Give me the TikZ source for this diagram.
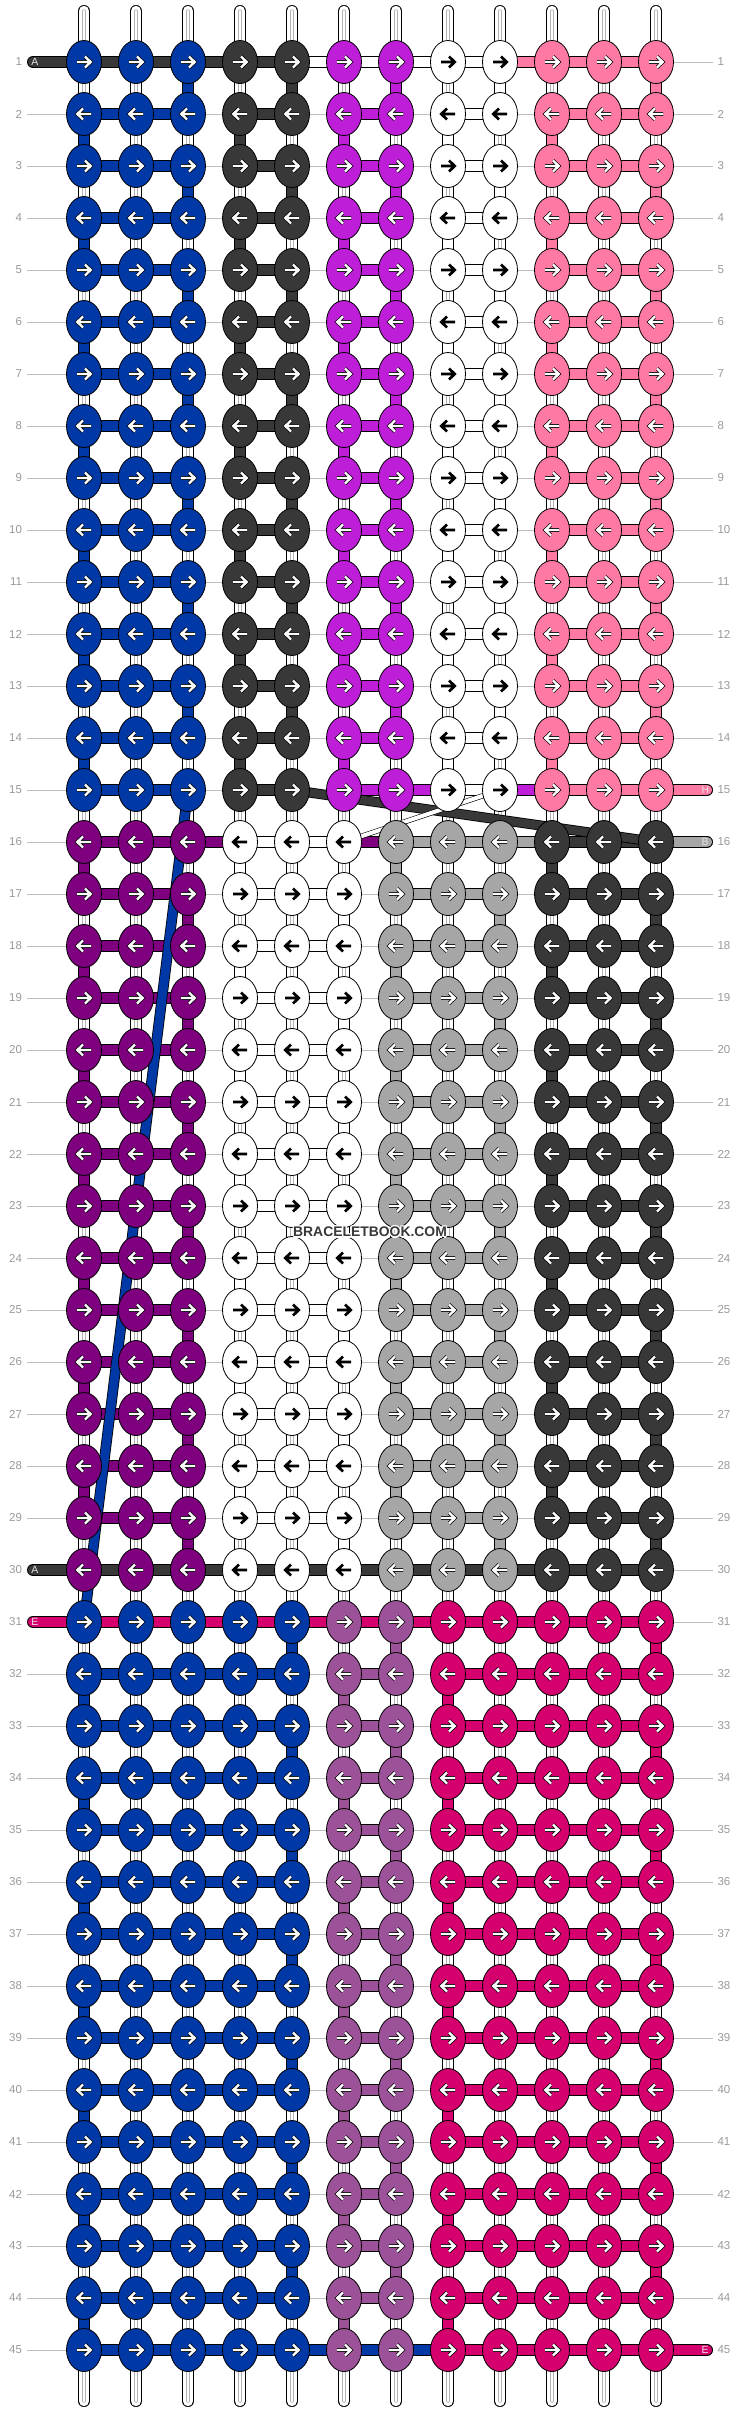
\documentclass[tikz,border=0pt]{standalone}
\usepackage{fontspec}
\setmainfont{Liberation Sans}
\usetikzlibrary{shapes.geometric}
\definecolor{kb}{HTML}{0039A6}
\definecolor{kd}{HTML}{383838}
\definecolor{km}{HTML}{BE1ED8}
\definecolor{kw}{HTML}{FFFFFF}
\definecolor{kp}{HTML}{FF7AA2}
\definecolor{kv}{HTML}{7F007F}
\definecolor{kg}{HTML}{A6A6A6}
\definecolor{kq}{HTML}{9C5298}
\definecolor{ke}{HTML}{D5006D}
\definecolor{numgray}{HTML}{999999}
\definecolor{linegray}{HTML}{BEBEBE}
\pgfdeclarelayer{guide}
\pgfdeclarelayer{strings}
\pgfdeclarelayer{threads}
\pgfdeclarelayer{cross}
\pgfsetlayers{guide,strings,threads,cross,main}
\begin{document}
\begin{tikzpicture}[x=1pt,y=-1pt,
  knot/.style={ellipse,draw=black,line width=0.8pt,minimum width=35pt,minimum height=43pt,inner sep=0pt},
  thread/.style={draw=black,line width=0.8pt,double=#1,double distance=10.4pt},
  base/.style={thread=kw,postaction={draw=black!30,line width=0.6pt,double=white,double distance=2.2pt}},
  warr/.style={draw=black,line width=0.7pt,double=white,double distance=2.3pt},
  barr/.style={draw=black,line width=2.7pt},
  rownum/.style={font=\fontsize{11.5}{12}\selectfont,text=numgray,inner sep=0pt,outer sep=4.5pt},
  tailname/.style={font=\fontsize{10.5}{11}\selectfont,text=white!90!black,inner sep=0pt},
  wmark/.style={font=\bfseries\fontsize{13.9}{14}\selectfont,inner sep=0pt}]
\useasboundingbox (0,0) rectangle (740,2412);
\foreach \ra/\rb/\cl in {1/15/{kb,kb,kb,kd,kd,km,km,kw,kw,kp,kp,kp},16/30/{kv,kv,kv,kw,kw,kw,kg,kg,kg,kd,kd,kd},31/45/{kb,kb,kb,kb,kb,kq,kq,ke,ke,ke,ke,ke}}
  \foreach \rw in {\ra,...,\rb} {
    \pgfmathsetmacro\dir{1-2*mod(\rw+1,2)}
    \foreach \kc [count=\cn] in \cl {
      \node[knot,fill=\kc] (k\rw-\cn) at ({32+52*\cn},{10+52*\rw}) {};
      \def\wn{kw}\edef\kn{\kc}
      \ifx\kn\wn\def\as{barr}\else\def\as{warr}\fi
      \draw[\as,shift={(k\rw-\cn.center)},xscale=\dir] (-7,0) -- (6,0) (1,-5.5) -- (6.7,0) -- (1,5.5);
    }
  }
\foreach \rw in {1,...,45} {
  \node[rownum,anchor=east] (nl\rw) at (26.5,{10+52*\rw}) {\rw};
  \node[rownum,anchor=west] (nr\rw) at (713,{10+52*\rw}) {\rw};
  \begin{pgfonlayer}{guide}
    \draw[linegray,line width=0.8pt] (nl\rw) -- (nr\rw);
  \end{pgfonlayer}
}
\node[tailname] (ta) at (35,62) {A};
\node[tailname] (th) at (705.5,790) {H};
\node[tailname] (tb) at (705,842) {B};
\node[tailname] (tz) at (35,1570) {A};
\node[tailname] (te) at (35,1622) {E};
\node[tailname] (tf) at (705,2350) {E};
\coordinate (ea) at (33,62);
\coordinate (eh) at (707,790);
\coordinate (eb) at (707,842);
\coordinate (ez) at (33,1570);
\coordinate (ee) at (33,1622);
\coordinate (ef) at (707,2350);
\begin{pgfonlayer}{strings}
\foreach \cn in {1,...,12} {
  \coordinate (t\cn) at ({32+52*\cn},11);
  \coordinate (b\cn) at ({32+52*\cn},2401);
  \draw[base,line cap=round] (t\cn) -- (k1-\cn.center);
  \draw[base,line cap=round] (k45-\cn.center) -- (b\cn);
  \foreach \rw [evaluate=\rw as \sn using int(\rw+1)] in {1,...,44}
    \draw[base] (k\rw-\cn.center) -- (k\sn-\cn.center);
}
\end{pgfonlayer}
\begin{pgfonlayer}{threads}
\foreach \rw [evaluate=\rw as \sn using int(\rw+1)] in {1,3,...,13}
  \foreach \cn/\kc in {3/kb,5/kd,7/km,9/kw,12/kp}
    \draw[thread=\kc] (k\rw-\cn.center) -- (k\sn-\cn.center);
\foreach \rw [evaluate=\rw as \sn using int(\rw+1)] in {2,4,...,14}
  \foreach \cn/\kc in {1/kb,4/kd,6/km,8/kw,10/kp}
    \draw[thread=\kc] (k\rw-\cn.center) -- (k\sn-\cn.center);
\foreach \rw [evaluate=\rw as \sn using int(\rw+1)] in {17,19,...,29}
  \foreach \cn/\kc in {3/kv,6/kw,9/kg,12/kd}
    \draw[thread=\kc] (k\rw-\cn.center) -- (k\sn-\cn.center);
\foreach \rw [evaluate=\rw as \sn using int(\rw+1)] in {16,18,...,28}
  \foreach \cn/\kc in {1/kv,4/kw,7/kg,10/kd}
    \draw[thread=\kc] (k\rw-\cn.center) -- (k\sn-\cn.center);
\foreach \rw [evaluate=\rw as \sn using int(\rw+1)] in {31,33,...,43}
  \foreach \cn/\kc in {5/kb,7/kq,12/ke}
    \draw[thread=\kc] (k\rw-\cn.center) -- (k\sn-\cn.center);
\foreach \rw [evaluate=\rw as \sn using int(\rw+1)] in {32,34,...,44}
  \foreach \cn/\kc in {1/kb,6/kq,8/ke}
    \draw[thread=\kc] (k\rw-\cn.center) -- (k\sn-\cn.center);
\draw[thread=km] (k15-7.center) -- (k15-10.center);
\draw[thread=kp,line cap=round] (k15-12.center) -- (eh);
\draw[thread=kg,line cap=round] (eb) -- (k16-7.center);
\draw[thread=kv] (k16-7.center) -- (k16-1.center);
\foreach \rw in {1,...,15}
  \foreach \cn/\dn/\kc in {1/2/kb,2/3/kb,4/5/kd,6/7/km,8/9/kw,10/11/kp,11/12/kp}
    \draw[thread=\kc] (k\rw-\cn.center) -- (k\rw-\dn.center);
\foreach \rw in {16,...,30}
  \foreach \cn/\dn/\kc in {1/2/kv,2/3/kv,4/5/kw,5/6/kw,7/8/kg,8/9/kg,10/11/kd,11/12/kd}
    \draw[thread=\kc] (k\rw-\cn.center) -- (k\rw-\dn.center);
\foreach \rw in {31,...,45}
  \foreach \cn/\dn/\kc in {1/2/kb,2/3/kb,3/4/kb,4/5/kb,6/7/kq,8/9/ke,9/10/ke,10/11/ke,11/12/ke}
    \draw[thread=\kc] (k\rw-\cn.center) -- (k\rw-\dn.center);
\draw[thread=kd,line cap=round] (ea) -- (k1-5.center);
\draw[thread=kw] (k1-5.center) -- (k1-9.center);
\draw[thread=kp] (k1-9.center) -- (k1-12.center);
\draw[thread=kd,line cap=round] (k30-12.center) -- (ez);
\draw[thread=ke,line cap=round] (ee) -- (k31-12.center);
\draw[thread=kb] (k45-1.center) -- (k45-8.center);
\draw[thread=ke,line cap=round] (k45-8.center) -- (ef);
\end{pgfonlayer}
\begin{pgfonlayer}{cross}
\draw[thread=kb,double distance=9pt] (k15-3.center) -- (k31-1.center);
\draw[thread=kd,double distance=8.5pt] (k15-5.center) -- (k16-12.center);
\draw[thread=kw,line width=0.6pt,double distance=4pt] (k15-9.center) -- (k16-6.center);
\end{pgfonlayer}
\foreach \a in {0,45,...,315}
  \node[wmark,text=white] (wm\a) at ([shift={(\a:1.3)}]370,1232) {BRACELETBOOK.COM};
\node[wmark,text=kd] (wm) at (370,1232) {BRACELETBOOK.COM};
\end{tikzpicture}
\end{document}
